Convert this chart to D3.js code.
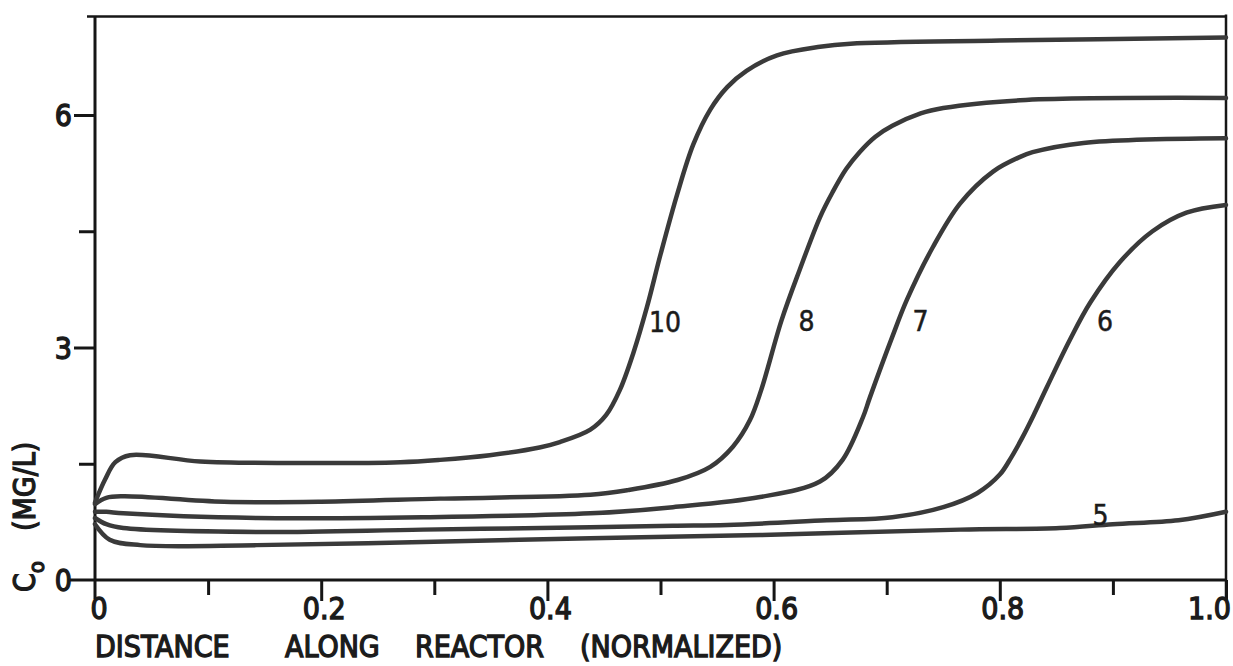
<!DOCTYPE html>
<html><head><meta charset="utf-8">
<script src="https://cdn.jsdelivr.net/npm/d3@7"></script>
<style>
html,body{margin:0;padding:0;background:#fff;}
svg{display:block;}
text{font-family:'DejaVu Sans Condensed','DejaVu Sans',sans-serif;font-stretch:condensed;fill:#1b1b1b;}
.heavy{stroke:#1b1b1b;stroke-width:1.3px;}
.mid{stroke:#1b1b1b;stroke-width:0.5px;}
</style></head><body>
<svg id="chart" width="1233" height="666"></svg>
<script>
// ---- data ----
const xMajorTicks = [0.2, 0.4, 0.6, 0.8, 1.0];
const xMinorTicks = [0.1, 0.3, 0.5, 0.7, 0.9];
const xTickLabels = ["0", "0.2", "0.4", "0.6", "0.8", "1.0"];
const xTickLabelValues = [0, 0.2, 0.4, 0.6, 0.8, 1.0];
const yMajorTicks = [0, 3, 6];
const yMinorTicks = [1.5, 4.5];
const yTickLabels = ["0", "3", "6"];
const frameTop = 7.27;
const xTitleWords = ["DISTANCE", "ALONG", "REACTOR", "(NORMALIZED)"];

const seriesNames = ["10", "8", "7", "6", "5"];
const x10 = [0, 0.009, 0.018, 0.031, 0.093, 0.172, 0.27, 0.305, 0.349, 0.393, 0.411, 0.438, 0.452, 0.464, 0.476, 0.488, 0.5, 0.515, 0.529, 0.544, 0.559, 0.576, 0.603, 0.641, 0.668, 0.8, 1.0];
const y10 = [1.0, 1.3, 1.52, 1.61, 1.53, 1.51, 1.52, 1.55, 1.61, 1.71, 1.78, 1.94, 2.13, 2.45, 2.93, 3.52, 4.2, 4.99, 5.62, 6.07, 6.36, 6.57, 6.77, 6.88, 6.92, 6.96, 7.0];
const x8 = [0, 0.01, 0.025, 0.114, 0.2, 0.305, 0.438, 0.471, 0.515, 0.544, 0.564, 0.579, 0.589, 0.607, 0.623, 0.641, 0.652, 0.664, 0.676, 0.69, 0.705, 0.73, 0.75, 0.818, 1.0];
const y8 = [0.98, 1.06, 1.08, 1.01, 1.01, 1.05, 1.10, 1.16, 1.29, 1.46, 1.72, 2.06, 2.45, 3.35, 4.0, 4.68, 5.0, 5.3, 5.52, 5.72, 5.86, 6.02, 6.09, 6.19, 6.22];
const x7 = [0, 0.01, 0.025, 0.143, 0.29, 0.438, 0.511, 0.588, 0.641, 0.661, 0.679, 0.685, 0.705, 0.718, 0.741, 0.765, 0.794, 0.818, 0.829, 0.874, 1.0];
const y7 = [0.88, 0.88, 0.86, 0.80, 0.81, 0.86, 0.94, 1.07, 1.27, 1.55, 2.1, 2.35, 3.14, 3.62, 4.30, 4.86, 5.27, 5.46, 5.52, 5.64, 5.70];
const x6 = [0, 0.01, 0.025, 0.143, 0.29, 0.438, 0.511, 0.559, 0.647, 0.705, 0.75, 0.78, 0.8, 0.81, 0.82, 0.83, 0.842, 0.862, 0.88, 0.906, 0.935, 0.965, 1.0];
const y6 = [0.8, 0.72, 0.67, 0.62, 0.65, 0.68, 0.70, 0.71, 0.77, 0.81, 0.94, 1.12, 1.36, 1.58, 1.84, 2.13, 2.5, 3.10, 3.58, 4.10, 4.50, 4.74, 4.84];
const x5 = [0, 0.013, 0.04, 0.143, 0.29, 0.438, 0.588, 0.765, 0.853, 0.9, 0.958, 1.0];
const y5 = [0.72, 0.52, 0.45, 0.45, 0.49, 0.54, 0.58, 0.65, 0.67, 0.72, 0.77, 0.88];
const labelX = [0.504, 0.629, 0.730, 0.893, 0.889];
const labelY = [3.34, 3.35, 3.35, 3.35, 0.85];

// ---- layout ----
const svg = d3.select("#chart");
const x = d3.scaleLinear().domain([0, 1]).range([95, 1226]);
const y = d3.scaleLinear().domain([0, 6]).range([580, 115]);
const ink = "#161616";

const series = seriesNames.map((n, i) => {
  const xs = [x10, x8, x7, x6, x5][i], ys = [y10, y8, y7, y6, y5][i];
  return {name: n, pts: xs.map((v, j) => [v, ys[j]]), lx: labelX[i], ly: labelY[i]};
});

const g = svg.append("g");
// frame
g.append("line").attr("x1", x(0) - 8).attr("x2", x(1)).attr("y1", y(frameTop)).attr("y2", y(frameTop))
  .attr("stroke", ink).attr("stroke-width", 2.5);
g.append("line").attr("x1", x(1)).attr("x2", x(1)).attr("y1", y(frameTop) - 2).attr("y2", y(0) + 20)
  .attr("stroke", ink).attr("stroke-width", 2.5);
// axis lines
g.append("line").attr("x1", x(0) - 25).attr("x2", x(1)).attr("y1", y(0)).attr("y2", y(0))
  .attr("stroke", ink).attr("stroke-width", 3);
g.append("line").attr("x1", x(0)).attr("x2", x(0)).attr("y1", y(frameTop)).attr("y2", y(0) + 19)
  .attr("stroke", ink).attr("stroke-width", 3);

// x ticks
const xAxisMajor = d3.axisBottom(x).tickValues(xMajorTicks).tickSize(21).tickFormat("");
const xAxisMinor = d3.axisBottom(x).tickValues(xMinorTicks).tickSize(15).tickFormat("");
[xAxisMajor, xAxisMinor].forEach(ax => {
  const a = g.append("g").attr("transform", `translate(0,${y(0)})`).call(ax);
  a.select(".domain").remove();
  a.selectAll("line").attr("stroke", ink).attr("stroke-width", 3);
});
// y ticks
const yAxisMajor = d3.axisLeft(y).tickValues(yMajorTicks.filter(v => v > 0)).tickSize(21).tickFormat("");
const yAxisMinor = d3.axisLeft(y).tickValues(yMinorTicks).tickSize(16).tickFormat("");
[yAxisMajor, yAxisMinor].forEach(ax => {
  const a = g.append("g").attr("transform", `translate(${x(0)},0)`).call(ax);
  a.select(".domain").remove();
  a.selectAll("line").attr("stroke", ink).attr("stroke-width", 3);
});

// tick labels
const nX = xTickLabels.length;
g.selectAll(".xl").data(xTickLabels).join("text").attr("class", "xl heavy")
  .attr("x", (d, i) => i === nX - 1 ? 1231 : x(xTickLabelValues[i]) + (i === 0 ? 4 : 3))
  .attr("y", 619).attr("text-anchor", (d, i) => i === nX - 1 ? "end" : "middle")
  .attr("font-size", 30).text(d => d);
g.selectAll(".yl").data(yTickLabels).join("text").attr("class", "yl heavy")
  .attr("x", 72).attr("y", (d, i) => y(yMajorTicks[i]) + 11)
  .attr("text-anchor", "end").attr("font-size", 30)
  .text(d => d);

// curves
const line = d3.line().x(d => x(d[0])).y(d => y(d[1])).curve(d3.curveCatmullRom.alpha(0.5));
g.selectAll(".curve").data(series).join("path").attr("class", "curve")
  .attr("d", d => line(d.pts)).attr("fill", "none")
  .attr("stroke", "#3a3a3a").attr("stroke-width", 4.5).attr("stroke-linejoin", "round").attr("stroke-linecap", "round");

// curve labels
g.selectAll(".cl").data(series).join("text").attr("class", "cl mid")
  .attr("x", d => x(d.lx)).attr("y", d => y(d.ly) + 11)
  .attr("text-anchor", "middle").attr("font-size", 28)
  .text(d => d.name);

// x axis title
const xt = g.append("text").attr("class", "heavy").attr("y", 657).attr("font-size", 30);
const wordX = [95, 285, 415, 580];
xt.selectAll("tspan").data(xTitleWords).join("tspan").attr("x", (d, i) => wordX[i]).text(d => d);

// y axis title
const yt = g.append("text").attr("class", "heavy").attr("transform", "translate(35,592) rotate(-90)")
  .attr("font-size", 30);
yt.append("tspan").text("C");
yt.append("tspan").attr("font-size", 22).attr("dy", 9).text("o");
yt.append("tspan").attr("dy", -9).attr("dx", 30).text("(MG/L)");
</script>
</body></html>
